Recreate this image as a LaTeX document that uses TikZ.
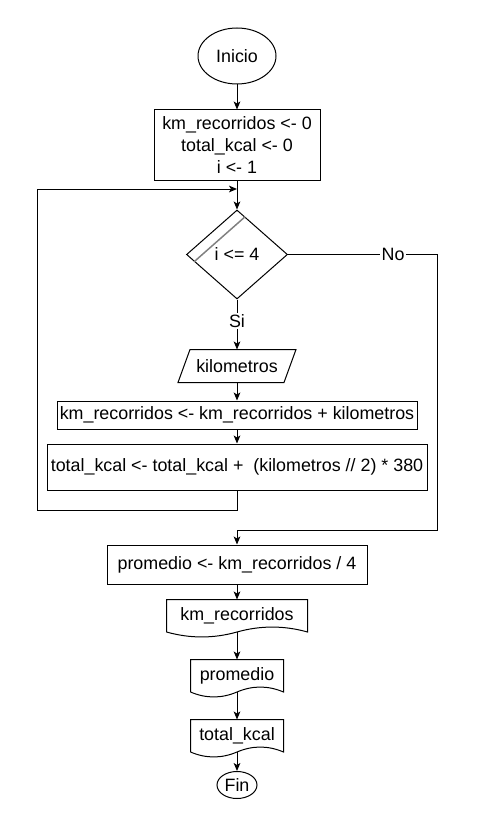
\documentclass[tikz,border=0pt]{standalone}
\usepackage{fontspec}
\setmainfont{Liberation Sans}
\usetikzlibrary{shapes.geometric,arrows.meta,calc}
\newlength{\pxu}\setlength{\pxu}{0.75pt}
\begin{document}
\begin{tikzpicture}[x=0.75pt, y=-0.75pt, line width=0.75pt,
        font=\fontsize{13.4}{16.5}\selectfont,
        >={Stealth[length=6pt,width=5pt,inset=1.5pt]},
        term/.style={ellipse,draw,fill=white,inner sep=0pt},
        block/.style={rectangle,draw,fill=white,inner sep=0pt,align=center},
        decision/.style={diamond,draw,fill=white,inner sep=0pt},
        shell/.style={rectangle,inner sep=0pt},
        lbl/.style={fill=white,inner sep=1pt}]
    \useasboundingbox (0,0) rectangle (476,831);
    \node[term, minimum width=78\pxu, minimum height=56\pxu] (inicio) at (237,56) {Inicio};
    \node[block, minimum width=166\pxu, minimum height=70\pxu] (init) at (237,145)
        {km\_recorridos <- 0\\total\_kcal <- 0\\i <- 1};
    \node[decision, minimum width=101\pxu, minimum height=89\pxu] (test) at (237,254.5) {i <= 4};
    \node[shell, minimum width=105\pxu, minimum height=32\pxu] (read) at (237,366) {kilometros};
    \node[block, minimum width=360\pxu, minimum height=28\pxu] (sum) at (237,415)
        {km\_recorridos <- km\_recorridos + kilometros};
    \node[block, minimum width=380\pxu, minimum height=46\pxu] (kcal) at (237,467)
        {total\_kcal <- total\_kcal + \ (kilometros // 2) * 380};
    \node[block, minimum width=260\pxu, minimum height=39\pxu] (prom) at (237,564.5)
        {promedio <- km\_recorridos / 4};
    \node[shell, minimum width=140\pxu, minimum height=31.5\pxu] (out1) at (237,615.75) {km\_recorridos};
    \node[shell, minimum width=92\pxu, minimum height=31.5\pxu] (out2) at (237,675.75) {promedio};
    \node[shell, minimum width=92\pxu, minimum height=31.5\pxu] (out3) at (237,735.75) {total\_kcal};
    \node[term, minimum width=40\pxu, minimum height=27\pxu] (fin) at (237,785) {Fin};
    \coordinate (join) at (237,189);
    \coordinate (loopL) at (37,510);
    \coordinate (noR) at (437,530);
    % input and output shapes
    \draw ([xshift=6\pxu]read.north west) -- ([xshift=6\pxu]read.north east)
        -- ([xshift=-6\pxu]read.south east) -- ([xshift=-6\pxu]read.south west) -- cycle;
    \foreach \n in {out1, out2, out3}
        \draw (\n.south west) -- (\n.north west) -- (\n.north east) -- (\n.south east)
            .. controls ($(\n.south east)!1/6!(\n.south west)+(0,-6.6)$) and ($(\n.south)!1/3!(\n.south east)+(0,-6.6)$) .. (\n.south)
            .. controls ($(\n.south)!1/3!(\n.south west)+(0,6.6)$) and ($(\n.south west)!1/6!(\n.south east)+(0,6.6)$) .. (\n.south west);
    \draw[gray, line width=1.1pt] ($(test.west)!0.16!(test.south)$) -- ($(test.north)!0.16!(test.east)$);
    % connectors
    \foreach \from/\to in {inicio/init, init/test, read/sum, sum/kcal, prom/out1, out1/out2, out2/out3, out3/fin}
        \draw[->] (\from) -- (\to);
    \draw[->] (test.south) -- node[lbl, pos=0.43] {Si} (read.north);
    \draw[->] (kcal.south) |- (loopL) |- (join);
    \draw[->] (test.east) -- node[lbl, pos=0.705] {No} (test.east -| noR) -- (noR) -| (prom.north);
\end{tikzpicture}
\end{document}
